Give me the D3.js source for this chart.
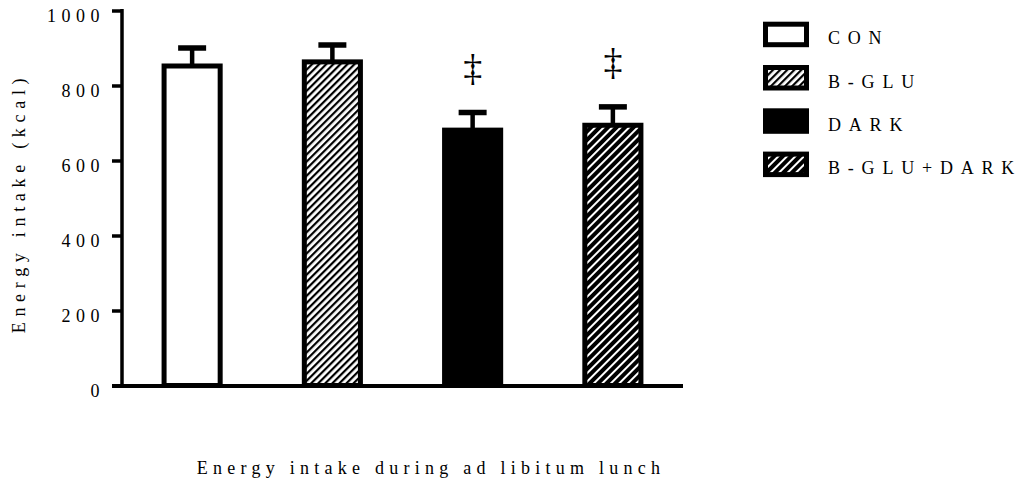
<!DOCTYPE html>
<html><head><meta charset="utf-8">
<script src="https://cdn.jsdelivr.net/npm/d3@7"></script>
<style>body{margin:0;background:#fff;}</style>
</head><body>
<svg id="c" width="1024" height="486"></svg>
<script>
const categories = ["CON", "B-GLU", "DARK", "B-GLU+DARK"];
const means = [852, 863, 681, 694];
const errors = [48, 45, 47, 49];
const significant = [false, false, true, true];
const yTicks = [0, 200, 400, 600, 800, 1000];
const fills = ["white", "url(#hatchA)", "black", "url(#hatchB)"];

const SERIF = '"Liberation Serif", "Times New Roman", serif';
const svg = d3.select("#c");
const defs = svg.append("defs");
const pA = defs.append("pattern").attr("id","hatchA").attr("patternUnits","userSpaceOnUse")
  .attr("width",5).attr("height",5).attr("patternTransform","rotate(45)");
pA.append("rect").attr("width",5).attr("height",5).attr("fill","white");
pA.append("rect").attr("width",2.2).attr("height",5).attr("fill","black");
const pB = defs.append("pattern").attr("id","hatchB").attr("patternUnits","userSpaceOnUse")
  .attr("width",6).attr("height",6).attr("patternTransform","rotate(45)");
pB.append("rect").attr("width",6).attr("height",6).attr("fill","black");
pB.append("rect").attr("width",2).attr("height",6).attr("fill","white");

const x0 = 122, x1 = 683, yTop = 10.5, yBot = 385.5;
const x = d3.scaleBand().domain(categories).range([x0, x1]).paddingInner(0.6).paddingOuter(0.3);
const y = d3.scaleLinear().domain([0, 1000]).range([yBot, yTop]);

// bars
const g = svg.append("g");
categories.forEach((c, i) => {
  const cx = x(c) + x.bandwidth()/2;
  g.append("line").attr("x1",cx).attr("x2",cx).attr("y1",y(means[i])).attr("y2",y(means[i]+errors[i]))
    .attr("stroke","black").attr("stroke-width",4.5);
  g.append("line").attr("x1",cx-14).attr("x2",cx+14).attr("y1",y(means[i]+errors[i])).attr("y2",y(means[i]+errors[i]))
    .attr("stroke","black").attr("stroke-width",5.5);
  g.append("rect").attr("x",x(c)).attr("width",x.bandwidth())
    .attr("y",y(means[i])).attr("height",y(0)-y(means[i]))
    .attr("fill",fills[i]).attr("stroke","black").attr("stroke-width",5);
  if (significant[i]) {
    g.append("text").attr("x",cx).attr("y",y(means[i]+errors[i]) - 32)
      .attr("text-anchor","middle").style("font-family",SERIF).style("font-size","38px").text("‡");
  }
});

// axes
const yAxis = d3.axisLeft(y).tickValues(yTicks).tickSize(10).tickFormat(d3.format("d"));
const ya = svg.append("g").attr("transform",`translate(${x0},0)`).call(yAxis);
ya.select(".domain").attr("stroke","black").attr("stroke-width",3.5).attr("d",`M0,${yTop-1.5}V${yBot}`);
ya.selectAll(".tick line").attr("stroke","black").attr("stroke-width",3.5);
ya.selectAll(".tick text").style("font-family",SERIF).style("font-size","18px").style("letter-spacing","5.5px")
  .attr("fill","black").attr("x",-17).attr("dy",null).attr("y",10.5);
svg.append("line").attr("x1",x0-10).attr("x2",x1).attr("y1",yBot+0.5).attr("y2",yBot+0.5)
  .attr("stroke","black").attr("stroke-width",4);

// axis titles
svg.append("text").attr("transform","translate(25,203) rotate(-90)").attr("text-anchor","middle")
  .style("font-family",SERIF).style("font-size","18px").style("letter-spacing","5.7px").text("Energy intake (kcal)");
svg.append("text").attr("x",431).attr("y",474).attr("text-anchor","middle")
  .style("font-family",SERIF).style("font-size","18px").style("letter-spacing","5.25px").text("Energy intake during ad libitum lunch");

// legend
const lg = svg.append("g");
categories.forEach((c, i) => {
  const top = 21.7 + i*43.3;
  lg.append("rect").attr("x",765.5).attr("y",top+2.5).attr("width",41).attr("height",20.5)
    .attr("fill",fills[i]).attr("stroke","black").attr("stroke-width",5);
  lg.append("text").attr("x",828).attr("y",top+22.5)
    .style("font-family",SERIF).style("font-size","18px").style("letter-spacing","7.8px").text(c);
});
</script>
</body></html>
